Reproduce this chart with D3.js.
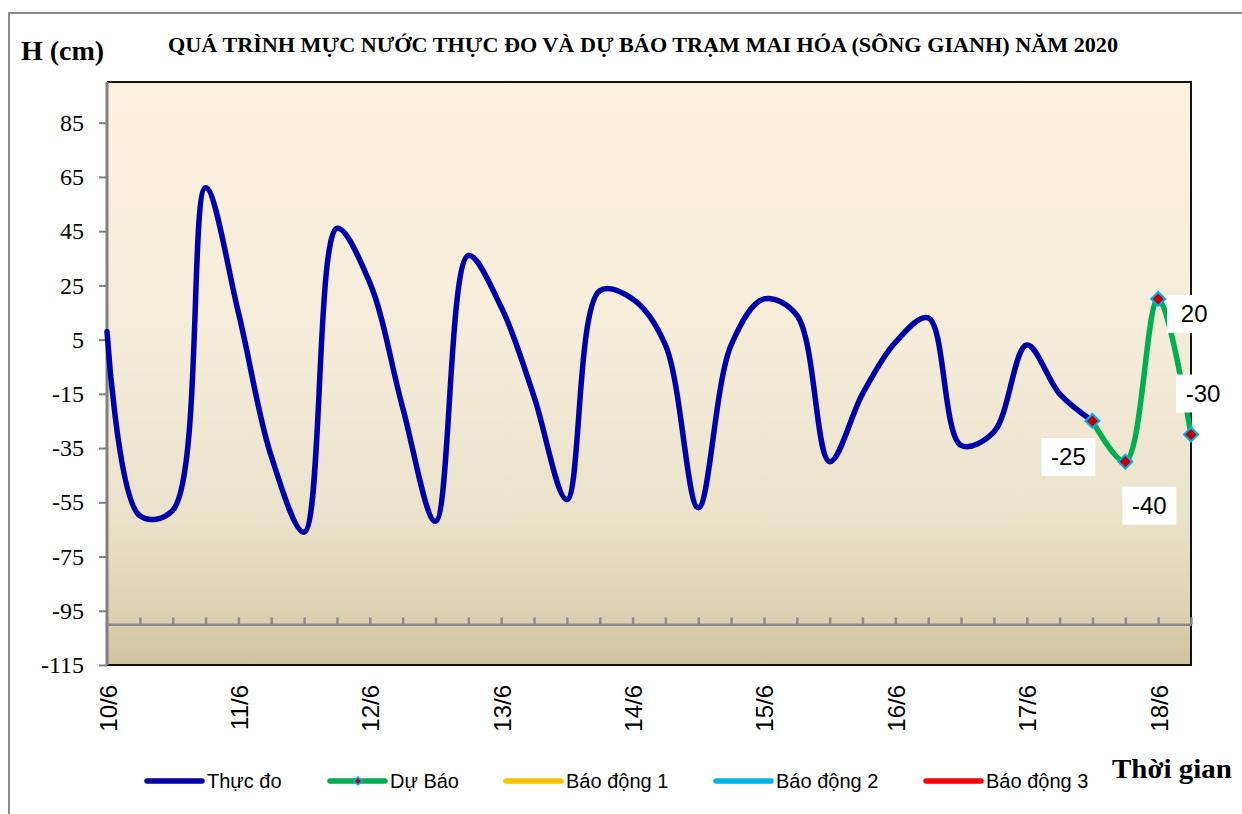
<!DOCTYPE html>
<html>
<head>
<meta charset="utf-8">
<script src="https://cdn.jsdelivr.net/npm/d3@7"></script>
<style>
  html, body { margin: 0; padding: 0; background: #fff; }
  svg { display: block; }
</style>
</head>
<body>
<svg id="chart" width="1242" height="814"></svg>
<script>
// ---------------- data ----------------
const dayLabels = ["10/6", "11/6", "12/6", "13/6", "14/6", "15/6", "16/6", "17/6", "18/6"];
const stepsPerDay = 4; // 6-hourly observations
// Thực đo (observed), one value every 6 hours starting 10/6
const observed = [8, -60, -58, 61, 15, -38, -66, 46, 26, -20, -62, 36, 17, -16, -54, 23, 20, 3, -57, 3, 20, 14, -40, -15, 4, 13, -34, -29, 3, -15, -25];
// Dự báo (forecast), starting at the last observed step
const forecastStart = 30;
const forecast = [-25, -40, 20, -30];
const yTicks = [-115, -95, -75, -55, -35, -15, 5, 25, 45, 65, 85];
const legendNames = ["Thực đo", "Dự Báo", "Báo động 1", "Báo động 2", "Báo động 3"];
const legendColors = ["#0000AA", "#00B050", "#FFC000", "#00B0F0", "#FF0000"];
const titleText = "QUÁ TRÌNH MỰC NƯỚC THỰC ĐO VÀ DỰ BÁO TRẠM MAI HÓA (SÔNG GIANH) NĂM  2020";

// ---------------- layout ----------------
const svg = d3.select("#chart");
const L = 107, R = 1191, T = 82, B = 665;
const nSteps = forecastStart + forecast.length - 1; // 33

const x = d3.scaleLinear().domain([0, nSteps]).range([L, R]);
const y = d3.scaleLinear().domain([-115, 100]).range([B, T]);

// outer chart border
svg.append("rect").attr("x", 9).attr("y", 13).attr("width", 1260).attr("height", 830)
  .attr("fill", "#fff").attr("stroke", "#8a8a8a").attr("stroke-width", 2);

// plot background gradient
const defs = svg.append("defs");
const grad = defs.append("linearGradient").attr("id", "bg").attr("x1", 0).attr("y1", 0).attr("x2", 0).attr("y2", 1);
[[0, "#FCF1DE"], [0.45, "#F4ECD9"], [0.75, "#EAE2CA"], [0.9, "#DDD3B5"], [1, "#D0C39F"]]
  .forEach(([o, c]) => grad.append("stop").attr("offset", o).attr("stop-color", c));
svg.append("rect").attr("x", L).attr("y", T).attr("width", R - L).attr("height", B - T).attr("fill", "url(#bg)");

// plot frame (top, right, bottom black)
svg.append("path").attr("d", `M${L},${T}H${R}V${B}H${L}`).attr("fill", "none")
  .attr("stroke", "#111").attr("stroke-width", 2);

// Y axis
const yAxis = svg.append("g").attr("transform", `translate(${L},0)`)
  .call(d3.axisLeft(y).tickValues(yTicks).tickFormat(d => String(d)).tickSize(8).tickPadding(15).tickSizeOuter(0));
yAxis.select(".domain").attr("stroke", "#808080").attr("stroke-width", 3).attr("d", `M0,${T}V${B}`);
yAxis.selectAll(".tick line").attr("stroke", "#808080").attr("stroke-width", 2);
yAxis.selectAll(".tick text").attr("font-family", "Liberation Serif, Times New Roman, serif")
  .attr("font-size", 24).attr("fill", "#000");

// X axis at -100
const xAxis = svg.append("g").attr("transform", `translate(0,${y(-100)})`)
  .call(d3.axisBottom(x).tickValues(d3.range(1, nSteps + 1)).tickSize(-7).tickFormat("").tickSizeOuter(0));
xAxis.select(".domain").attr("stroke", "#8c8c8c").attr("stroke-width", 2.5);
xAxis.selectAll(".tick line").attr("stroke", "#8c8c8c").attr("stroke-width", 2.5);

// X labels (rotated)
svg.append("g").selectAll("text").data(dayLabels).join("text")
  .attr("transform", (d, i) => `translate(${x(i * stepsPerDay) + 1},685) rotate(-90)`)
  .attr("text-anchor", "end").attr("dominant-baseline", "central")
  .attr("font-family", "Liberation Sans, Arial, sans-serif").attr("font-size", 24).attr("fill", "#000")
  .text(d => d);

// lines
const line = d3.line().x(d => x(d.i)).y(d => y(d.v)).curve(d3.curveCatmullRom.alpha(0.5));
const obsData = observed.map((v, i) => ({ i, v }));
const fcData = forecast.map((v, k) => ({ i: forecastStart + k, v }));

svg.append("path").datum(obsData).attr("d", line).attr("fill", "none")
  .attr("stroke", legendColors[0]).attr("stroke-width", 5.5).attr("stroke-linejoin", "round").attr("stroke-linecap", "round");
svg.append("path").datum(fcData).attr("d", line).attr("fill", "none")
  .attr("stroke", legendColors[1]).attr("stroke-width", 5.5).attr("stroke-linejoin", "round").attr("stroke-linecap", "round");

// markers
const diamond = s => `M0,${-s}L${s},0L0,${s}L${-s},0Z`;
svg.append("g").selectAll("path").data(fcData).join("path")
  .attr("transform", d => `translate(${x(d.i)},${y(d.v)})`)
  .attr("d", diamond(7)).attr("fill", "#C00000").attr("stroke", "#00B0F0").attr("stroke-width", 2);

// data labels with white boxes
const labelOffsets = [[-24, 36], [24, 44], [36, 15], [12, -41]];
const lbl = svg.append("g").selectAll("g").data(fcData).join("g")
  .attr("transform", (d, k) => `translate(${x(d.i) + labelOffsets[k][0]},${y(d.v) + labelOffsets[k][1]})`);
lbl.append("rect").attr("x", -27).attr("y", -19).attr("width", 54).attr("height", 38).attr("fill", "#fff");
lbl.append("text").attr("text-anchor", "middle").attr("dominant-baseline", "central")
  .attr("font-family", "Liberation Sans, Arial, sans-serif").attr("font-size", 24).attr("fill", "#000")
  .text(d => String(d.v));

// titles
svg.append("text").attr("x", 21).attr("y", 60)
  .attr("font-family", "Liberation Serif, Times New Roman, serif").attr("font-weight", "bold")
  .attr("font-size", 28).attr("fill", "#000").text("H (cm)");
svg.append("text").attr("x", 168).attr("y", 52)
  .attr("font-family", "Liberation Serif, Times New Roman, serif").attr("font-weight", "bold")
  .attr("font-size", 20).attr("fill", "#000")
  .attr("textLength", 950).attr("lengthAdjust", "spacingAndGlyphs").text(titleText);
svg.append("text").attr("x", 1112).attr("y", 778)
  .attr("font-family", "Liberation Serif, Times New Roman, serif").attr("font-weight", "bold")
  .attr("font-size", 28).attr("fill", "#000")
  .attr("textLength", 120).attr("lengthAdjust", "spacingAndGlyphs").text("Thời gian");

// legend
const legX = [147, 330, 506, 716, 926];
const leg = svg.append("g").selectAll("g").data(legendNames).join("g")
  .attr("transform", (d, i) => `translate(${legX[i]},781)`);
leg.append("line").attr("x1", 0).attr("x2", 55).attr("y1", 0).attr("y2", 0)
  .attr("stroke", (d, i) => legendColors[i]).attr("stroke-width", 5.5).attr("stroke-linecap", "round");
leg.filter((d, i) => i === 1).append("path").attr("transform", "translate(28,0)")
  .attr("d", diamond(4)).attr("fill", "#C00000").attr("stroke", "#00B0F0").attr("stroke-width", 1.5);
leg.append("text").attr("x", 60).attr("y", 0).attr("dominant-baseline", "central")
  .attr("font-family", "Liberation Sans, Arial, sans-serif").attr("font-size", 20).attr("fill", "#000")
  .text(d => d);
</script>
</body>
</html>
